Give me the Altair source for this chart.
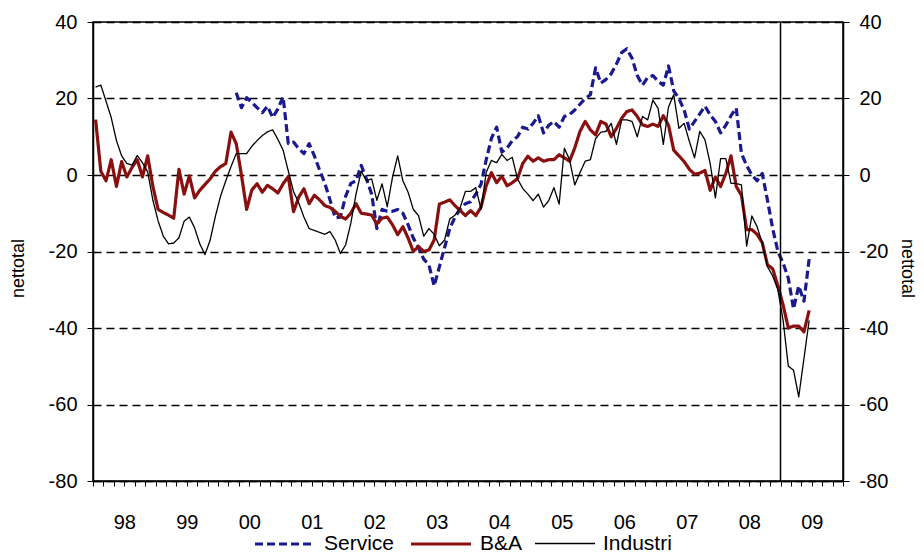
import altair as alt
import pandas as pd

# ---------------- data (monthly, Jan 1998 onwards) ----------------
series_names = ["Service", "B&A", "Industri"]
service_first_month = 27  # Service starts Apr 2000

service = [
    21.5, 17.6, 20.2, 19, 17.6, 16.3, 18, 15, 17.3, 20.4,
    8.2, 8.6, 6.9, 5.6, 8.2, 5, 1.3, -2.1, -6.5, -11.2,
    -11, -5.6, -2.2, -1.5, 2.5, -1, -5, -14, -9, -9.5,
    -9.5, -9, -10, -13, -16.5, -19, -22, -23.5, -29, -24,
    -19, -14, -11, -9, -7.5, -7, -5, -2.4, 4, 9.6,
    12.5, 6, 7, 9, 10, 12.5, 12, 13.5, 15.5, 11,
    13, 14, 12.5, 15.3, 15.8, 17, 18.5, 20, 21, 28,
    24, 25, 26.5, 29, 32, 33, 30.5, 26, 23.5, 25.5,
    26, 24.5, 23.5, 28.5, 22, 20, 17, 12, 14, 16,
    18, 15.7, 14, 11, 13, 15.5, 17.5, 5.6, 2.5, 0,
    -1.5, 0.4, -6.6, -14, -20, -23, -27, -35, -29, -33, -22,
]

bna = [
    14.5, 1, -1.5, 4, -3, 3.5, -0.5, 2, 4, -0.5,
    5, -3, -9, -9.8, -10.5, -11.3, 1.5, -5, -0.2, -6,
    -4, -2.5, -1, 1, 2.2, 3, 11.2, 8.2, 0, -9,
    -3.9, -2.3, -4.5, -2.7, -3.6, -4.7, -2.3, -0.4, -9.6, -5.8,
    -3.6, -7.5, -5.3, -6.5, -8, -8.5, -9.5, -10.8, -11.5, -10,
    -7.5, -10, -10.2, -10.5, -12.8, -11.3, -11, -13, -15.6, -13.5,
    -16.5, -20, -18.7, -20, -19.6, -17, -7.6, -7.1, -6.5, -8,
    -9.3, -10.6, -9.3, -10.6, -8.4, -2.8, 0.6, -2, -0.3, -2.8,
    -2, -1, 3, 4.9, 3.6, 4.5, 3.6, 4, 4, 5.3,
    4.5, 3.6, 7.1, 11.4, 14, 11.8, 10.5, 14, 13.3, 10,
    12.2, 14.8, 16.6, 17, 15.3, 13.1, 12.7, 13.3, 12.7, 15.5,
    13, 6.5, 5, 3.5, 1.5, 0.2, 0.5, 1.2, -4, -0.5,
    -3, 0.4, 5, -3, -5.3, -14.3, -14.3, -15.5, -17.7, -23.5,
    -24.5, -29, -34, -40, -39.5, -39.5, -41, -35.4,
]

industri = [
    23, 23.5, 19.3, 15, 9, 5, 3, 2.6, 5.1, 3.2,
    0.8, -6.6, -12, -16, -18, -17.8, -16.4, -12.1, -11, -13.8,
    -18, -20.8, -17, -10.8, -5.5, -1.5, 2.2, 5.6, 5.6, 5.6,
    7.5, 9, 10.3, 11.3, 11.8, 9.3, 6.5, 1, -4.3, -7.3,
    -11, -14, -14.5, -15, -15.5, -14.8, -17, -20.5, -18.3, -12.6,
    -5, 1, -1.5, -1, -6.6, -2.3, -8.3, -0.6, 5, -1.5,
    -4.5, -9, -10.6, -16, -14, -15.5, -18.5, -17, -11.5, -10.5,
    -8.5, -4.3, -4.3, -3.3, -9, 0.7, 3.8, 3.2, 5.4, 3.8,
    4.6, -1, -3.5, -5, -6.7, -5, -8.4, -6.7, -3.3, -7.6,
    7, 4, -2.6, 0.6, 3.6, 4, 9.5, 11.2, 11.4, 13.5,
    8, 14.4, 14.4, 14, 10, 15.3, 14.4, 19.6, 17.4, 8,
    17.8, 21, 12.2, 13.5, 8.8, 4.5, 11.4, 9.2, 3, -6,
    4.3, 4.3, -2.2, -2.2, -2.6, -18.6, -10.7, -13.5, -17.8, -24,
    -26.4, -30, -38, -50, -51, -58, -48, -38,
]

first_year = 1998
year_labels = list(range(1998, 2010))      # "98" ... "09"
y_ticks = [-80, -60, -40, -20, 0, 20, 40]
break_marker = [2009]                      # vertical line at start of 2009

# ---------------- long table ----------------
rows = []
for name, vals, start in [("Service", service, service_first_month),
                          ("B&A", bna, 0),
                          ("Industri", industri, 0)]:
    for k, v in enumerate(vals):
        m = start + k
        rows.append({"series": name, "t": first_year + (m + 0.5) / 12.0, "v": v})
df = pd.DataFrame(rows)

FONT = "Liberation Sans Narrow, Liberation Sans, Arial"
W, H = 750, 459

xscale = alt.Scale(domain=[1998, 2010], nice=False, zero=False)
yscale = alt.Scale(domain=[-80, 40], nice=False, zero=False)

tick_vals = [first_year + k / 6.0 for k in range(0, 73)]
label_vals = [y + 0.5 for y in year_labels]

x_tick_axis = alt.Axis(values=tick_vals, labels=False, tickSize=5, tickColor="black",
                       tickWidth=1, domainColor="black", domainWidth=1.5, grid=False,
                       title=None, orient="bottom")
x_label_axis = alt.Axis(values=label_vals, ticks=False, domain=False, grid=False,
                        labelExpr="slice(toString(floor(datum.value)), 2)",
                        labelFont=FONT, labelFontSize=20, labelColor="black",
                        labelPadding=31, title=None, orient="bottom")

left_axis = alt.Axis(values=y_ticks, orient="left", tickSize=6, tickColor="black",
                     domainColor="black", domainWidth=1.5, labelFont=FONT,
                     labelExpr="toString(datum.value)",
                     labelFontSize=20, labelColor="black", labelPadding=10,
                     grid=True, gridColor="black", gridDash=[8, 5], gridWidth=1.3,
                     title="nettotal", titleFont=FONT, titleFontSize=18,
                     titleFontWeight="normal", titleColor="black",
                     titleX=-75, titleY=246, titleBaseline="middle")
right_axis = alt.Axis(values=y_ticks, orient="right", tickSize=6, tickColor="black",
                      domainColor="black", domainWidth=1.5, labelFont=FONT,
                      labelExpr="toString(datum.value)",
                      labelFontSize=20, labelColor="black", labelPadding=10,
                      grid=False, title="nettotal", titleFont=FONT, titleFontSize=18,
                      titleFontWeight="normal", titleColor="black",
                      titleX=63, titleY=246, titleBaseline="middle")

legend = alt.Legend(title=None, orient="none", legendX=160, legendY=490,
                    direction="horizontal", symbolType="stroke", symbolSize=3600,
                    labelFont=FONT, labelFontSize=21, labelColor="black",
                    labelOffset=7, columnPadding=9)

color = alt.Color("series:N", scale=alt.Scale(domain=series_names,
                  range=["#1a1a8e", "#8a0f0f", "#000000"]), legend=legend)
dash = alt.StrokeDash("series:N", scale=alt.Scale(domain=series_names,
                      range=[[8, 4], [1, 0], [1, 0]]), legend=legend)
width_enc = alt.StrokeWidth("series:N", scale=alt.Scale(type="ordinal", domain=series_names,
                            range=[3.2, 3.2, 1.3]), legend=legend)

lines = alt.Chart(df).mark_line(strokeJoin="round").encode(
    x=alt.X("t:Q", scale=xscale, axis=x_tick_axis),
    y=alt.Y("v:Q", scale=yscale, axis=left_axis),
    color=color, strokeDash=dash, strokeWidth=width_enc,
    detail="series:N",
)

right = alt.Chart(df).mark_line(opacity=0).encode(
    x=alt.X("t:Q", scale=xscale, axis=None),
    y=alt.Y("v:Q", scale=yscale, axis=right_axis),
    detail="series:N",
)

rule = alt.Chart(pd.DataFrame({"t": break_marker})).mark_rule(
    color="black", strokeWidth=1.5).encode(
    x=alt.X("t:Q", scale=xscale, axis=x_label_axis),
)

chart = alt.layer(lines, rule, right).resolve_axis(
    x="independent", y="independent"
).properties(
    width=W, height=H,
    autosize=alt.AutoSizeParams(type="none"),
    padding={"left": 85, "top": 14, "right": 73, "bottom": 74},
).configure_view(stroke="black", strokeWidth=1.5)

chart.save("out.html", embed_options={"renderer": "svg", "actions": False})
